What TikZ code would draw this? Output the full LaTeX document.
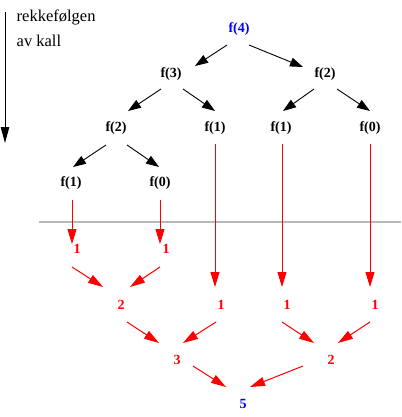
\documentclass[tikz,border=0pt]{standalone}
\usepackage{fontspec}
\setmainfont{Liberation Serif}
\usetikzlibrary{arrows.meta}

\definecolor{rulegray}{RGB}{185,185,185}
\tikzset{
  call/.style={font=\fontsize{14}{16}\selectfont\bfseries, inner sep=0pt},
  val/.style={call, text=red},
  down/.style={-{Triangle[length=13pt, width=9pt]}, line width=0.9pt},
  back/.style={-{Triangle[length=15pt, width=9pt]}, line width=1pt, red}
}

\begin{document}
\begin{tikzpicture}[x=1pt, y=-1pt]
  \useasboundingbox (0, 0) rectangle (401, 417);

  % time axis
  \coordinate (first) at (5, 12);
  \coordinate (last) at (5, 143);
  \draw [-{Triangle[length=16pt, width=8.5pt]}, line width=0.9pt] (first) -- (last);
  \node (order) [anchor=base west, inner sep=0pt, font=\fontsize{16.5}{18}\selectfont] at (16.5, 21.5) {rekkefølgen};
  \node (calls) [anchor=base west, inner sep=0pt, font=\fontsize{16.5}{18}\selectfont] at (16.5, 46.5) {av kall};

  % calls
  \node (f4) [call, text=blue] at (239, 29) {f(4)};
  \node (f3) [call] at (171, 74) {f(3)};
  \node (f2r) [call] at (325, 74) {f(2)};
  \node (f2l) [call] at (116, 128) {f(2)};
  \node (f1a) [call] at (215, 128) {f(1)};
  \node (f1b) [call] at (281, 128) {f(1)};
  \node (f0a) [call] at (370, 128) {f(0)};
  \node (f1c) [call] at (71, 183) {f(1)};
  \node (f0b) [call] at (160, 183) {f(0)};

  \draw [down] ([shift={(-12,16)}]f4.center) -- ([shift={(24,-8)}]f3.center);
  \draw [down] ([shift={(10,16)}]f4.center) -- ([shift={(-22,-7)}]f2r.center);
  \draw [down] ([shift={(-10,15)}]f3.center) -- ([shift={(12,-17)}]f2l.center);
  \draw [down] ([shift={(12,15)}]f3.center) -- ([shift={(0,-17)}]f1a.center);
  \draw [down] ([shift={(-11,15)}]f2r.center) -- ([shift={(2,-17)}]f1b.center);
  \draw [down] ([shift={(12,15)}]f2r.center) -- ([shift={(0,-17)}]f0a.center);
  \draw [down] ([shift={(-10,17)}]f2l.center) -- ([shift={(2,-16)}]f1c.center);
  \draw [down] ([shift={(11,17)}]f2l.center) -- ([shift={(-1,-16)}]f0b.center);

  % separator
  \coordinate (sepl) at (39, 222);
  \coordinate (sepr) at (401, 222);
  \draw [rulegray, line width=2pt] (sepl) -- (sepr);

  % return values
  \node (r1a) [val] at (77, 249) {1};
  \node (r1b) [val] at (166, 249) {1};
  \node (r2a) [val] at (121, 305) {2};
  \node (r1c) [val] at (221, 305) {1};
  \node (r1d) [val] at (287, 305) {1};
  \node (r1e) [val] at (375, 305) {1};
  \node (r3) [val] at (177, 360) {3};
  \node (r2b) [val] at (331, 360) {2};
  \node (r5) [call, text=blue] at (243, 404) {5};

  \draw [back] ([shift={(1,17)}]f1c.center) -- ([shift={(-5,-5)}]r1a.center);
  \draw [back] ([shift={(0,17)}]f0b.center) -- ([shift={(-6,-5)}]r1b.center);
  \draw [back] ([shift={(0,16)}]f1a.center) -- ([shift={(-6,-18)}]r1c.center);
  \draw [back] ([shift={(1,16)}]f1b.center) -- ([shift={(-5,-18)}]r1d.center);
  \draw [back] ([shift={(0,16)}]f0a.center) -- ([shift={(-5,-18)}]r1e.center);
  \draw [back] ([shift={(-5,18)}]r1a.center) -- ([shift={(-18,-18)}]r2a.center);
  \draw [back] ([shift={(-6,18)}]r1b.center) -- ([shift={(9,-18)}]r2a.center);
  \draw [back] ([shift={(6,17)}]r2a.center) -- ([shift={(-18,-17)}]r3.center);
  \draw [back] ([shift={(-5,17)}]r1c.center) -- ([shift={(6,-17)}]r3.center);
  \draw [back] ([shift={(-5,17)}]r1d.center) -- ([shift={(-17,-17)}]r2b.center);
  \draw [back] ([shift={(-5,17)}]r1e.center) -- ([shift={(7,-17)}]r2b.center);
  \draw [back] ([shift={(16,6)}]r3.center) -- ([shift={(-17,-17)}]r5.center);
  \draw [back] ([shift={(-28,6)}]r2b.center) -- ([shift={(7,-17)}]r5.center);
\end{tikzpicture}
\end{document}
